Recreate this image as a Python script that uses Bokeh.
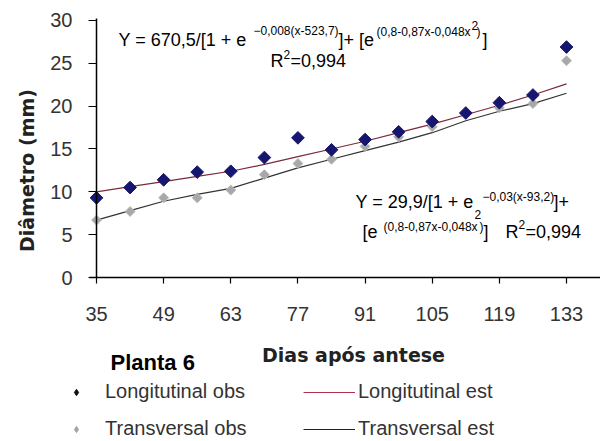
import math
from bokeh.plotting import figure
from bokeh.models import Range1d, FixedTicker, Label, Legend, LegendItem
from bokeh.embed import file_html
from bokeh.resources import INLINE

# ---- data ----
days = [35, 42, 49, 56, 63, 70, 77, 84, 91, 98, 105, 112, 119, 126, 133]
long_obs = [9.3, 10.5, 11.4, 12.3, 12.4, 14.0, 16.3, 14.9, 16.1, 17.0, 18.2, 19.2, 20.4, 21.3, 26.9]
trans_obs = [6.7, 7.7, 9.3, 9.3, 10.2, 12.0, 13.3, 13.8, 15.3, 16.4, 17.6, 19.1, 19.8, 20.3, 25.3]
long_est = [10.0, 10.6, 11.2, 11.8, 12.4, 13.2, 14.1, 15.0, 15.9, 16.9, 17.9, 19.0, 20.1, 21.3, 22.6]
trans_est = [6.7, 7.8, 8.9, 9.7, 10.4, 11.6, 12.8, 13.8, 14.8, 15.8, 16.9, 18.3, 19.4, 20.3, 21.5]
x_ticks = [35, 49, 63, 77, 91, 105, 119, 133]
y_ticks = [0, 5, 10, 15, 20, 25, 30]

W, H = 600, 438
X0_PX, Y0_PX = 96, 277          # where (35, 0) sits on the canvas
SX, SY = 4.796, 8.568           # pixels per day / per mm
x_lo = 35 - X0_PX / SX
x_hi = 35 + (W - X0_PX) / SX
y_lo = -(H - Y0_PX) / SY
y_hi = Y0_PX / SY

p = figure(width=W, height=H, output_backend="svg", toolbar_location=None,
           x_range=Range1d(x_lo, x_hi), y_range=Range1d(y_lo, y_hi),
           min_border=0, min_border_left=0, min_border_right=0,
           min_border_top=0, min_border_bottom=0)
p.outline_line_color = None
p.grid.visible = False
p.background_fill_color = "white"

FONT = "Liberation Sans"
for ax in (p.xaxis[0], p.yaxis[0]):
    ax.axis_line_color = "black"
    ax.axis_line_width = 1.5
    ax.major_tick_line_color = "black"
    ax.major_tick_line_width = 1.2
    ax.minor_tick_line_color = None
    ax.major_tick_in = 0
    ax.major_label_text_font = FONT
    ax.major_label_text_font_size = "20px"
    ax.major_label_text_color = "#333333"

p.xaxis.fixed_location = 0
p.yaxis.fixed_location = 35
p.xaxis.bounds = (33.5, x_hi)
p.yaxis.bounds = (0, 30.2)
p.xaxis.ticker = FixedTicker(ticks=x_ticks)
p.yaxis.ticker = FixedTicker(ticks=y_ticks)
p.xaxis.major_tick_out = 6
p.yaxis.major_tick_out = 8
p.xaxis.major_label_standoff = 23
p.yaxis.major_label_standoff = 16

r_le = p.line(days, long_est, line_color="#7a2a3a", line_width=1.2)
r_te = p.line(days, trans_est, line_color="#333333", line_width=1.2)
r_to = p.scatter(days, trans_obs, marker="square", angle=math.pi / 4, size=7,
                 fill_color="#a8a8a8", line_color="#b8b8b8")
r_lo = p.scatter(days, long_obs, marker="square", angle=math.pi / 4, size=9,
                 fill_color="#16166e", line_color="#16166e")
# legend samples (a single missing value each; only their look is used by the legend)
NA = [float("nan")]
k_lo = p.scatter(x=NA, y=NA, marker="diamond", size=14, fill_color="#111111", line_color="#111111")
k_to = p.scatter(x=NA, y=NA, marker="diamond", size=9, fill_color="#a0a0a0", line_color="#b0b0b0")
k_le = p.line(x=NA, y=NA, line_color="#b03050", line_width=1.2)
k_te = p.line(x=NA, y=NA, line_color="#222222", line_width=1.2)

# ---- annotations (positions given in image pixels of the page) ----
def dx(ix):
    return 35 + (ix - X0_PX) / SX

def dy(iy):
    return (Y0_PX - iy) / SY

def lab(txt, ix, iy, size, bold=False, font=FONT, align="left", angle=0.0, color="black"):
    p.add_layout(Label(x=dx(ix), y=dy(iy), text=txt, text_font=font,
                       text_font_size=f"{size}px", text_baseline="middle",
                       text_align=align, text_color=color, angle=angle,
                       text_font_style="bold" if bold else "normal"))

# axis titles
lab("Dias após antese", 353, 354, 19, bold=True, font="DejaVu Sans", align="center", color="#222222")
lab("Diâmetro (mm)", 26, 170, 19, bold=True, font="DejaVu Sans", align="center",
    angle=math.pi / 2, color="#222222")

# equation 1
lab("Y = 670,5/[1 + e", 118, 39, 18)
lab("\u22120,008(x-523,7)", 253, 30, 12)
lab("]+ [e", 338, 39, 18)
lab("(0,8-0,87x-0,048x", 376, 31, 12)
lab("2", 471, 25, 12)
lab(")", 476, 31, 12)
lab("]", 482, 39, 18)
lab("R", 270, 60, 18)
lab("2", 283, 54, 12)
lab("=0,994", 290, 60, 18)
# equation 2
lab("Y = 29,9/[1 + e", 355, 201, 18)
lab("\u22120,03(x-93,2)", 482, 196, 12)
lab("]+", 553, 201, 18)
lab("[e", 362, 231, 18)
lab("(0,8-0,87x-0,048x", 383, 226, 12)
lab("2", 474, 214, 12)
lab(")", 479, 226, 12)
lab("]", 483, 231, 18)
lab("R", 505, 231, 18)
lab("2", 518, 224, 12)
lab("=0,994", 525, 231, 18)
# title below the axis
lab("Planta 6", 110, 362, 22, bold=True)

common = dict(padding=0, margin=0, border_line_color=None, background_fill_alpha=0,
              label_text_font=FONT, label_text_font_size="20px", label_text_color="#333333",
              glyph_height=16, label_height=16, spacing=14)
leg_y = H - 440
leg1 = Legend(items=[LegendItem(label="Longitutinal obs", renderers=[k_lo]),
                     LegendItem(label="Transversal obs", renderers=[k_to])],
              location=(61, leg_y), glyph_width=30, label_standoff=14, **common)
leg2 = Legend(items=[LegendItem(label="Longitutinal est", renderers=[k_le]),
                     LegendItem(label="Transversal est", renderers=[k_te])],
              location=(303, leg_y), glyph_width=52, label_standoff=3, **common)
p.add_layout(leg1)
p.add_layout(leg2)

open("out.html", "w").write(file_html(p, INLINE))
